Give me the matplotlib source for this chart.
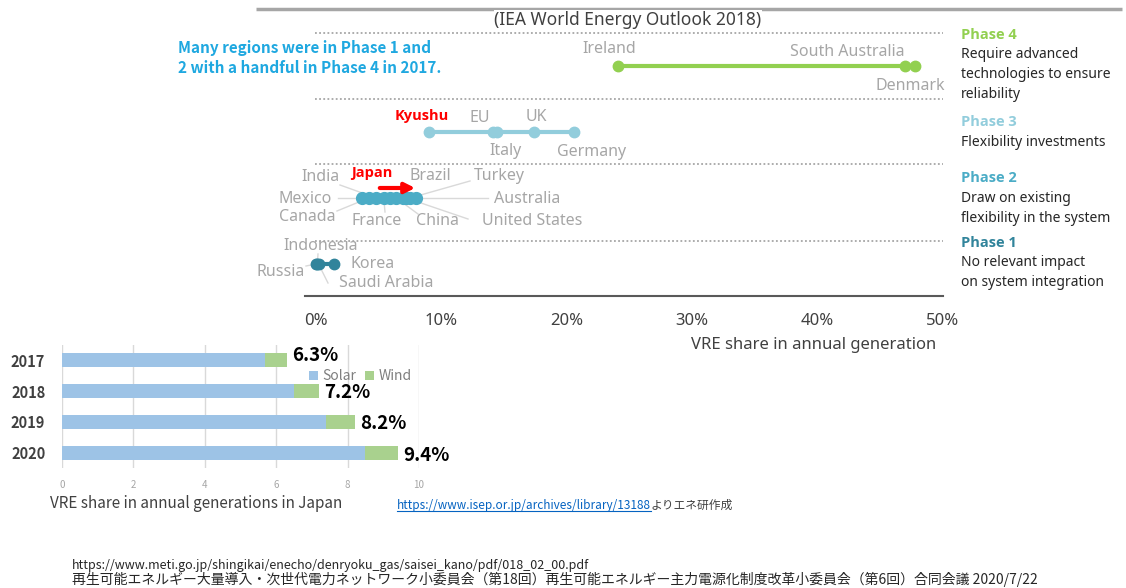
import matplotlib.pyplot as plt

plt.rcParams['font.family'] = ['Noto Sans', 'Noto Sans CJK JP', 'DejaVu Sans']

# ---- data: VRE share by region, 2017 (IEA WEO 2018) ----
phase4_names = ['Ireland', 'South Australia', 'Denmark']
phase4_vals = [24.1, 47.0, 47.8]
phase3_names = ['Kyushu', 'EU', 'Italy', 'UK', 'Germany']
phase3_vals = [9.0, 14.1, 14.4, 17.4, 20.6]
phase2_names = ['Mexico', 'Canada', 'India', 'France', 'Japan', 'China',
                'Brazil', 'United States', 'Turkey', 'Australia']
phase2_vals = [3.7, 4.2, 4.8, 5.4, 5.9, 6.4, 6.9, 7.2, 7.5, 8.0]
phase1_names = ['Russia', 'Indonesia', 'Saudi Arabia', 'Korea']
phase1_vals = [0.0, 0.1, 0.2, 1.4]
top_ticks = [0, 10, 20, 30, 40, 50]

# ---- data: Japan VRE share (%) ----
years = ['2017', '2018', '2019', '2020']
solar = [5.7, 6.5, 7.4, 8.5]
wind = [0.6, 0.7, 0.8, 0.9]
totals = [6.3, 7.2, 8.2, 9.4]
bar_ticks = [0, 2, 4, 6, 8, 10]

GRAY = '#A6A6A6'
DARK = '#404040'
BOLD = ['Open Sans', 'DejaVu Sans']
phase_cols = {4: '#92D050', 3: '#92CDDC', 2: '#4BACC6', 1: '#31849B'}
row_y = {4: 66, 3: 132, 2: 198, 1: 264}

fig = plt.figure(figsize=(11.26, 5.88), dpi=100)
ax = fig.add_axes([0, 0, 1, 1])
PX = 12.54   # pixels per percent
X0 = 316     # pixel of 0%
ax.set_xlim(-X0 / PX, (1126 - X0) / PX)
ax.set_ylim(588, 0)
ax.axis('off')


def pct(px):
    return (px - X0) / PX


# frame lines
ax.plot([pct(256), pct(1122)], [9, 9], color=GRAY, lw=2.5, solid_capstyle='butt')
ax.plot([pct(305), pct(943)], [296, 296], color='#595959', lw=1.5)
for yy in [33, 99, 164, 241]:
    ax.plot([pct(315), pct(943)], [yy, yy], color=GRAY, lw=1.3, ls=(0, (1, 1.3)))

ax.text(pct(628), 20, '(IEA World Energy Outlook 2018)', ha='center', va='center',
        fontsize=12.5, color=DARK,
        bbox=dict(facecolor='white', edgecolor='none', pad=0.5))
ax.text(pct(178), 58, 'Many regions were in Phase 1 and\n2 with a handful in Phase 4 in 2017.',
        ha='left', va='center', fontsize=11, fontweight='bold', color='#1FA8E0',
        linespacing=1.25, family=['Noto Sans CJK JP'])

# label positions (pixel layout)
label_pos = {
    'Ireland': (609, 49), 'South Australia': (847, 52), 'Denmark': (910, 86),
    'Kyushu': (422, 116), 'EU': (480, 118), 'UK': (536, 117), 'Italy': (505, 151),
    'Germany': (592, 152), 'India': (320, 177), 'Japan': (372, 173), 'Brazil': (430, 176),
    'Turkey': (499, 176), 'Mexico': (305, 199), 'Australia': (527, 199),
    'Canada': (307, 217), 'France': (377, 221), 'China': (437, 221),
    'United States': (532, 221), 'Indonesia': (321, 246), 'Korea': (373, 264),
    'Russia': (281, 272), 'Saudi Arabia': (386, 283),
}
leader_from = {
    'India': (340, 185), 'Mexico': (338, 198), 'Canada': (337, 211),
    'France': (385, 212), 'China': (418, 214), 'United States': (468, 219),
    'Australia': (488, 198), 'Turkey': (470, 181), 'Indonesia': (318, 254),
    'Russia': (306, 266), 'Saudi Arabia': (328, 283),
}

phases = {4: (phase4_names, phase4_vals), 3: (phase3_names, phase3_vals),
          2: (phase2_names, phase2_vals), 1: (phase1_names, phase1_vals)}

for ph, (names, vals) in phases.items():
    y = row_y[ph]
    for n, v in zip(names, vals):
        if n in leader_from:
            lx, ly = leader_from[n]
            ax.plot([pct(lx), v], [ly, y], color='#D9D9D9', lw=1, zorder=1)
    ax.plot(vals, [y] * len(vals), '-o', color=phase_cols[ph], lw=3,
            ms=7.5 if ph != 2 else 8.5, zorder=3, solid_capstyle='round')
    for n in names:
        px, py = label_pos[n]
        if n in ('Kyushu', 'Japan'):
            ax.text(pct(px), py, n, ha='center', va='center', fontsize=10.5,
                    fontweight='bold', color='#FF0000', zorder=4, family=BOLD,
                    bbox=dict(facecolor='white', edgecolor='none', pad=1))
        else:
            ax.text(pct(px), py, n, ha='center', va='center', fontsize=11.5,
                    color=GRAY, zorder=4)

ax.annotate('', xy=(pct(418), 188), xytext=(pct(377), 188),
            arrowprops=dict(arrowstyle='-|>', color='#FF0000', lw=3,
                            mutation_scale=15), zorder=5)

# x axis ticks of top chart
for t in top_ticks:
    ax.text(t, 321, f'{t}%', ha='center', va='center', fontsize=12, color=DARK)
ax.text(pct(814), 345, 'VRE share in annual generation', ha='center', va='center',
        fontsize=12, color=DARK)

# phase descriptions
desc = {
    4: (35, ['Require advanced', 'technologies to ensure', 'reliability']),
    3: (122, ['Flexibility investments']),
    2: (178, ['Draw on existing', 'flexibility in the system']),
    1: (243, ['No relevant impact', 'on system integration']),
}
for ph, (y0, lines) in desc.items():
    ax.text(pct(961), y0, f'Phase {ph}', ha='left', va='center', fontsize=10.5,
            fontweight='bold', color=phase_cols[ph], family=BOLD)
    for i, ln in enumerate(lines):
        ax.text(pct(961), y0 + 20 + 20 * i, ln, ha='left', va='center',
                fontsize=10, color='#262626')

# ---- Japan bar chart ----
jp = ['Noto Sans CJK JP', 'DejaVu Sans']
bx = fig.add_axes([62 / 1126, 1 - 468 / 588, 357 / 1126, 123 / 588])
ypos = list(range(len(years)))
bx.barh(ypos, solar, height=0.46, color='#9DC3E6', label='Solar')
bx.barh(ypos, wind, left=solar, height=0.46, color='#A9D18E', label='Wind')
bx.set_xlim(0, 10)
bx.set_ylim(3.5, -0.5)
bx.set_xticks(bar_ticks)
bx.set_yticks(ypos)
bx.set_yticklabels(years, fontsize=10.5, fontweight='bold', color=DARK, family=jp)
bx.tick_params(axis='y', length=0, pad=12)
bx.tick_params(axis='x', length=0, pad=9, labelsize=7, labelcolor=GRAY)
for lab in bx.get_xticklabels():
    lab.set_family(jp)
bx.grid(axis='x', color='#D9D9D9', lw=1)
bx.set_axisbelow(True)
for s in bx.spines.values():
    s.set_visible(False)
offs = [-0.15, 0.05, 0.05, 0.1]
for i, t in enumerate(totals):
    bx.text(t + 0.15, i + offs[i], f'{t}%', ha='left', va='center', fontsize=13.5,
            fontweight='bold', color='black', family=jp, clip_on=False)
leg = bx.legend(loc='center', bbox_to_anchor=(0.835, 0.745), ncol=2, frameon=False,
                handlelength=0.7, handleheight=0.7, handletextpad=0.3,
                columnspacing=0.6, prop={'family': jp, 'size': 10})
for tx in leg.get_texts():
    tx.set_color('#7F7F7F')

fig.text(50 / 1126, 1 - 504 / 588, 'VRE share in annual generations in Japan',
         ha='left', va='center', fontsize=11, color=DARK, family=jp)

url = fig.text(397 / 1126, 1 - 505 / 588, 'https://www.isep.or.jp/archives/library/13188',
               ha='left', va='center', fontsize=8.5, color='#0563C1', family=jp)
fig.canvas.draw()
bb = url.get_window_extent()
x_end = bb.x1 / 1126
fig.text(x_end, 1 - 505 / 588, 'よりエネ研作成', ha='left', va='center', fontsize=8.5,
         color=DARK, family=jp)
fig.add_artist(plt.Line2D([bb.x0 / 1126, bb.x1 / 1126],
                          [(bb.y0 + 1) / 588, (bb.y0 + 1) / 588],
                          color='#0563C1', lw=0.8))

fig.text(72 / 1126, 1 - 565 / 588,
         'https://www.meti.go.jp/shingikai/enecho/denryoku_gas/saisei_kano/pdf/018_02_00.pdf',
         ha='left', va='center', fontsize=9, color='#262626', family=jp)
fig.text(72 / 1126, 1 - 579 / 588,
         '再生可能エネルギー大量導入・次世代電力ネットワーク小委員会（第18回）'
         '再生可能エネルギー主力電源化制度改革小委員会（第6回）合同会議 2020/7/22',
         ha='left', va='center', fontsize=10, color='#262626', family=jp)

fig.savefig('out.png', dpi=100)
